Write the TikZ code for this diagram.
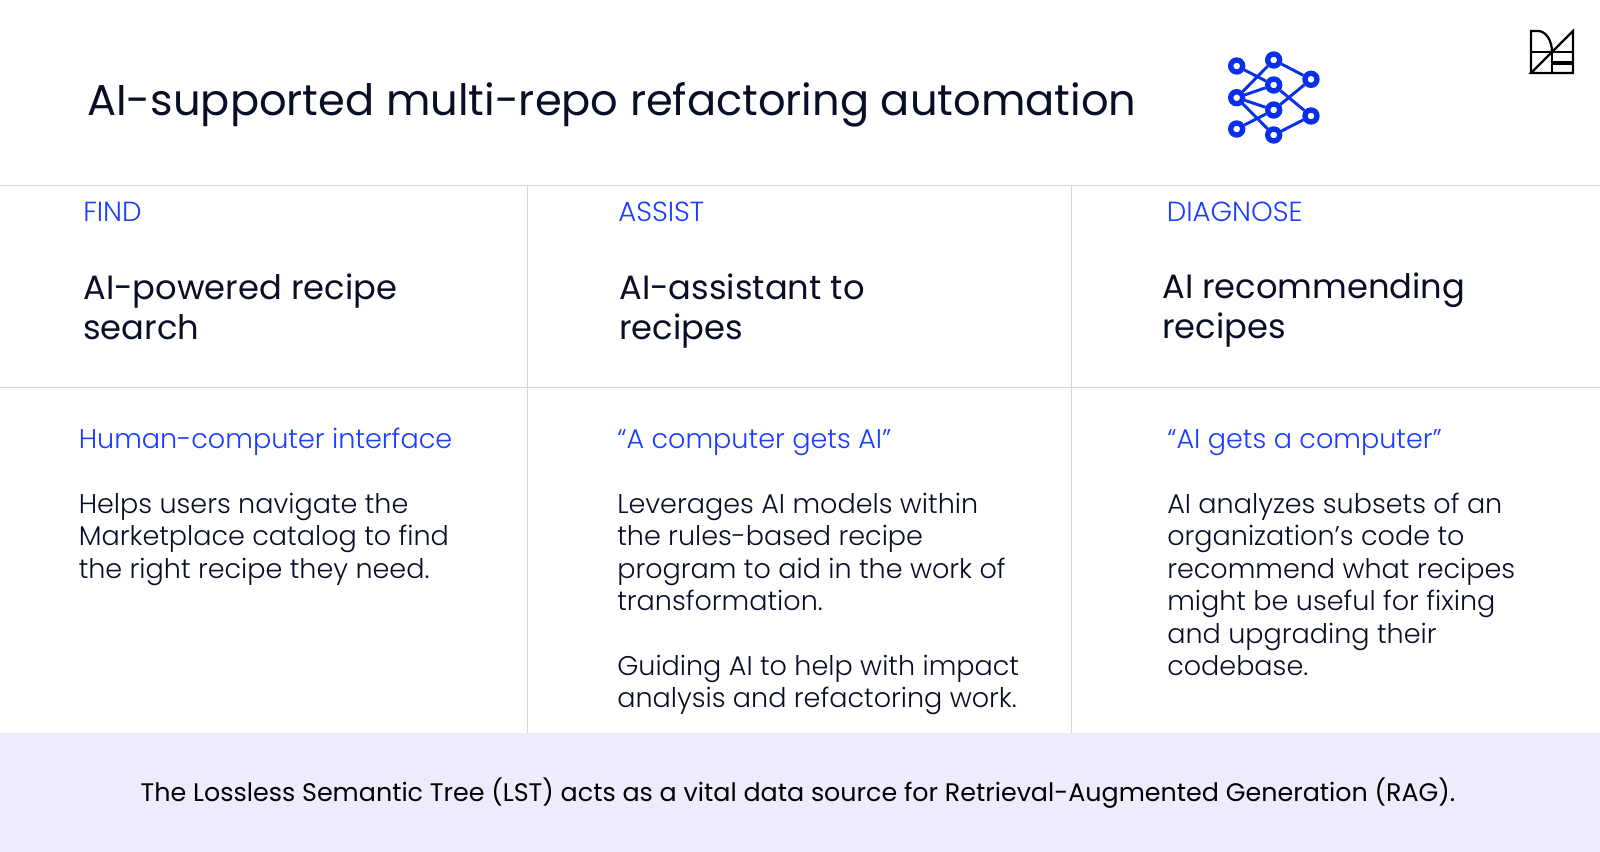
\documentclass[tikz,border=0pt]{standalone}
\usepackage{fontspec}
\setmainfont{Poppins}
\newfontfamily\lightfont{Poppins Light}
\definecolor{inkdark}{HTML}{080E26}
\definecolor{bluetext}{HTML}{1A3DFF}
\definecolor{bluenet}{HTML}{0A2FE8}
\definecolor{rulegray}{HTML}{D6D6D6}
\definecolor{bandlilac}{HTML}{EEEBFC}
\tikzset{
  titletext/.style={anchor=base west, inner sep=0pt, text=inkdark, font=\fontsize{32.37}{40}\selectfont},
  tagtext/.style={anchor=base west, inner sep=0pt, text=bluetext, font=\lightfont\fontsize{20.7}{24}\selectfont},
  headtext/.style={anchor=north west, inner sep=0pt, align=left, text=inkdark, font=\fontsize{25.3}{30}\selectfont},
  subtext/.style={anchor=base west, inner sep=0pt, text=bluetext, font=\lightfont\fontsize{20.3}{24}\selectfont},
  bodytext/.style={anchor=north west, inner sep=0pt, align=left, text=inkdark, font=\lightfont\fontsize{20.27}{24.3}\selectfont},
  bandtext/.style={anchor=base, inner sep=0pt, text=black, font=\fontsize{19.03}{24}\selectfont},
  gridline/.style={draw=rulegray, line width=0.9pt},
  netnode/.style={circle, draw=bluenet, fill=white, line width=4pt, minimum size=9pt, inner sep=0pt},
  netedge/.style={draw=bluenet, line width=2.2pt},
  logoline/.style={draw=black, line width=1.7pt}
}

\begin{document}
\begin{tikzpicture}[x=0.75pt,y=-0.75pt]
  \useasboundingbox (0,0) rectangle (1600,852);

  \fill [bandlilac] (0,733) rectangle (1600,852);

  \draw [gridline] (0,185.3) -- (1600,185.3);
  \draw [gridline] (0,387.3) -- (1600,387.3);
  \draw [gridline] (527.7,185.3) -- (527.7,733);
  \draw [gridline] (1071.7,185.3) -- (1071.7,733);

  \node [titletext] (title) at (87,115.5) {AI-supported multi-repo refactoring automation};

  \node [tagtext] (find) at (83,221.5) {FIND};
  \node [tagtext] (assist) at (618,221.5) {ASSIST};
  \node [tagtext] (diagnose) at (1166.5,221.5) {DIAGNOSE};

  \node [headtext] (headfind) at (83,274) {AI-powered recipe\\search};
  \node [headtext] (headassist) at (619,274) {AI-assistant to\\recipes};
  \node [headtext] (headdiagnose) at (1162,273) {AI recommending\\recipes};

  \node [subtext] (subfind) at (78.5,448) {Human-computer interface};
  \node [subtext] (subassist) at (617,448) {“A computer gets AI”};
  \node [subtext] (subdiagnose) at (1167,448) {“AI gets a computer”};

  \node [bodytext] (bodyfind) at (78.5,492.8) {Helps users navigate the\\Marketplace catalog to find\\the right recipe they need.};
  \node [bodytext] (bodyassist) at (617,492.8) {Leverages AI models within\\the rules-based recipe\\program to aid in the work of\\transformation.\\[24.3pt]Guiding AI to help with impact\\analysis and refactoring work.};
  \node [bodytext] (bodydiagnose) at (1167,492.8) {AI analyzes subsets of an\\organization’s code to\\recommend what recipes\\might be useful for fixing\\and upgrading their\\codebase.};

  \node [bandtext] (lstnote) at (798,801) {The Lossless Semantic Tree (LST) acts as a vital data source for Retrieval-Augmented Generation (RAG).};

  \node [netnode] (l1) at (1236.7,66) {};
  \node [netnode] (l2) at (1236.7,97.7) {};
  \node [netnode] (l3) at (1236.7,129) {};
  \node [netnode] (m1) at (1273.7,60) {};
  \node [netnode] (m2) at (1273.7,85) {};
  \node [netnode] (m3) at (1273.7,110) {};
  \node [netnode] (m4) at (1273.7,135) {};
  \node [netnode] (r1) at (1311,79.3) {};
  \node [netnode] (r2) at (1311,116) {};

  \draw [netedge] (l1) -- (m2);
  \draw [netedge] (l2) -- (m1);
  \draw [netedge] (l2) -- (m2);
  \draw [netedge] (l2) -- (m3);
  \draw [netedge] (l2) -- (m4);
  \draw [netedge] (l3) -- (m3);
  \draw [netedge] (m1) -- (r1);
  \draw [netedge] (m2) -- (r2);
  \draw [netedge] (m3) -- (r1);
  \draw [netedge] (m4) -- (r2);

  \draw [logoline] (1531,73) -- (1531,31) -- (1538,31) arc (-90:0:14 and 21);
  \draw [logoline] (1531,73) -- (1573,31) -- (1573,73) -- cycle;
  \draw [logoline] (1531,52) -- (1573,52);
  \draw [logoline] (1552,52) -- (1552,73);
  \draw [logoline, line width=2.4pt] (1552,63) -- (1573,63);
\end{tikzpicture}
\end{document}
